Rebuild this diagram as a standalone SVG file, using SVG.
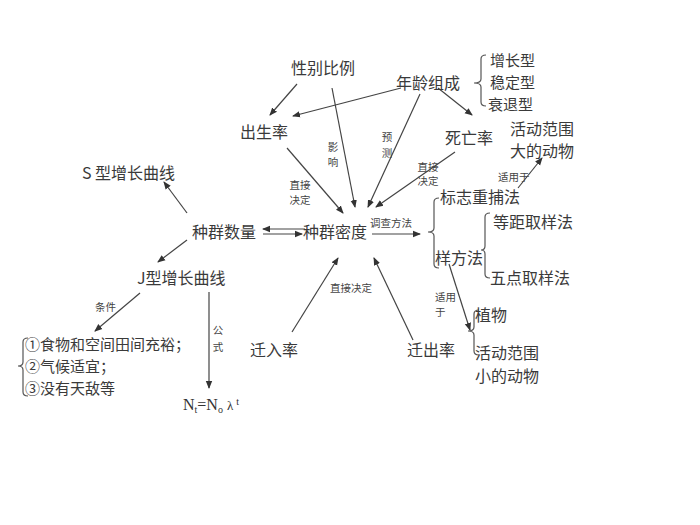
<svg xmlns="http://www.w3.org/2000/svg" width="700" height="525" viewBox="0 0 700 525">
<defs>
<marker id="ah" markerWidth="8" markerHeight="8" refX="7" refY="4" orient="auto" markerUnits="userSpaceOnUse">
<path d="M0,0.8 L8,4 L0,7.2 Z" fill="#333"/>
</marker>
<style>
.t{font-family:"Noto Sans CJK SC","Liberation Sans",sans-serif;font-size:16px;fill:#3a3a3a}
.l{font-family:"Noto Sans CJK SC","Liberation Sans",sans-serif;font-size:15px;fill:#3a3a3a}
.s{font-family:"Noto Sans CJK SC","Liberation Sans",sans-serif;font-size:10.5px;fill:#444}
.c line{stroke:#444;stroke-width:1.2;marker-end:url(#ah)}
.b{fill:none;stroke:#555;stroke-width:1.2}
.f{font-family:"Liberation Serif",serif;font-size:16px;fill:#333}
</style>
</defs>
<rect width="700" height="525" fill="#fff"/>
<g id="connectors" class="c">
<line x1="297" y1="84" x2="270" y2="115"/>
<line x1="401" y1="88" x2="293" y2="116"/>
<line x1="332" y1="88" x2="355" y2="207"/>
<line x1="420" y1="94" x2="368" y2="207"/>
<line x1="438" y1="88" x2="472" y2="115"/>
<line x1="455" y1="152" x2="376" y2="207"/>
<line x1="287" y1="148" x2="343" y2="213"/>
<line x1="305" y1="229" x2="263" y2="229"/>
<line x1="263" y1="234" x2="302" y2="234"/>
<line x1="187" y1="213" x2="164" y2="182"/>
<line x1="187" y1="240" x2="158" y2="262"/>
<line x1="140" y1="293" x2="95" y2="331"/>
<line x1="209" y1="292" x2="209" y2="388"/>
<line x1="292" y1="332" x2="338" y2="258"/>
<line x1="413" y1="340" x2="374" y2="258"/>
<line x1="372" y1="234" x2="420" y2="234"/>
<line x1="518" y1="188" x2="542" y2="158"/>
<line x1="449" y1="264" x2="470" y2="330"/>
</g>
<g id="labels">
<text class="s" x="333" y="151" text-anchor="middle">影</text>
<text class="s" x="333" y="166" text-anchor="middle">响</text>
<text class="s" x="387" y="141" text-anchor="middle">预</text>
<text class="s" x="387" y="157" text-anchor="middle">测</text>
<text class="s" x="300" y="189" text-anchor="middle">直接</text>
<text class="s" x="300" y="204" text-anchor="middle">决定</text>
<text class="s" x="428" y="171" text-anchor="middle">直接</text>
<text class="s" x="428" y="185" text-anchor="middle">决定</text>
<text class="s" x="498" y="181">适用于</text>
<text class="s" x="370" y="227">调查方法</text>
<text class="s" x="330" y="292">直接决定</text>
<text class="s" x="95" y="311">条件</text>
<text class="s" x="218" y="334" text-anchor="middle">公</text>
<text class="s" x="218" y="351" text-anchor="middle">式</text>
<text class="s" x="435" y="301">适用</text>
<text class="s" x="435" y="316">于</text>
</g>
<g id="n-xingbie"><text class="t" x="291" y="74">性别比例</text></g>
<g id="n-nianling"><text class="t" x="396" y="89">年龄组成</text></g>
<g id="n-types">
<path class="b" d="M486,55 Q481,55 481,59 L481,79 Q481,83 474,83 Q481,83 481,87 L481,102 Q481,106 486,106"/>
<text class="l" x="490" y="66">增长型</text>
<text class="l" x="490" y="88">稳定型</text>
<text class="l" x="488" y="110">衰退型</text>
</g>
<g id="n-chusheng"><text class="t" x="240" y="138">出生率</text></g>
<g id="n-siwang"><text class="t" x="445" y="144">死亡率</text></g>
<g id="n-dadongwu"><text class="t" x="510" y="135">活动范围</text><text class="t" x="510" y="157">大的动物</text></g>
<g id="n-s"><text class="t" x="82" y="179">S 型增长曲线</text></g>
<g id="n-shuliang"><text class="t" x="192" y="238">种群数量</text></g>
<g id="n-midu"><text class="t" x="303" y="238">种群密度</text></g>
<g id="n-methods">
<path class="b" d="M439,198 Q434,198 434,202 L434,228 Q434,232 428,232 Q434,232 434,236 L434,264 Q434,268 439,268"/>
<text class="t" x="440" y="203">标志重捕法</text>
<text class="t" x="435" y="264">样方法</text>
</g>
<g id="n-yangfang">
<path class="b" d="M490,213 Q485,213 485,217 L485,246 Q485,250 481,250 Q485,250 485,254 L485,274 Q485,278 490,278"/>
<text class="t" x="493" y="228">等距取样法</text>
<text class="t" x="490" y="284">五点取样法</text>
</g>
<g id="n-apply">
<path class="b" d="M479,310 Q474,310 474,314 L474,327 Q474,331 468,331 Q474,331 474,335 L474,351 Q474,355 479,355"/>
<text class="t" x="475" y="321">植物</text>
<text class="t" x="475" y="359">活动范围</text>
<text class="t" x="475" y="382">小的动物</text>
</g>
<g id="n-j"><text class="t" x="137" y="284">J型增长曲线</text></g>
<g id="n-conditions">
<path class="b" d="M28,338 Q23,338 23,342 L23,362 Q23,366 18,366 Q23,366 23,370 L23,392 Q23,396 28,396"/>
<text class="l" x="25" y="350">①食物和空间田间充裕；</text>
<text class="l" x="25" y="372">②气候适宜；</text>
<text class="l" x="25" y="394">③没有天敌等</text>
</g>
<g id="n-formula"><text class="f" x="183" y="410">N<tspan font-size="10" dy="3">t</tspan><tspan dy="-3">=N</tspan><tspan font-size="10" dy="3">o</tspan><tspan dy="-3" font-size="13" dx="4">λ</tspan><tspan font-size="10" dy="-5" dx="3">t</tspan></text></g>
<g id="n-qianru"><text class="t" x="250" y="356">迁入率</text></g>
<g id="n-qianchu"><text class="t" x="407" y="356">迁出率</text></g>
</svg>
